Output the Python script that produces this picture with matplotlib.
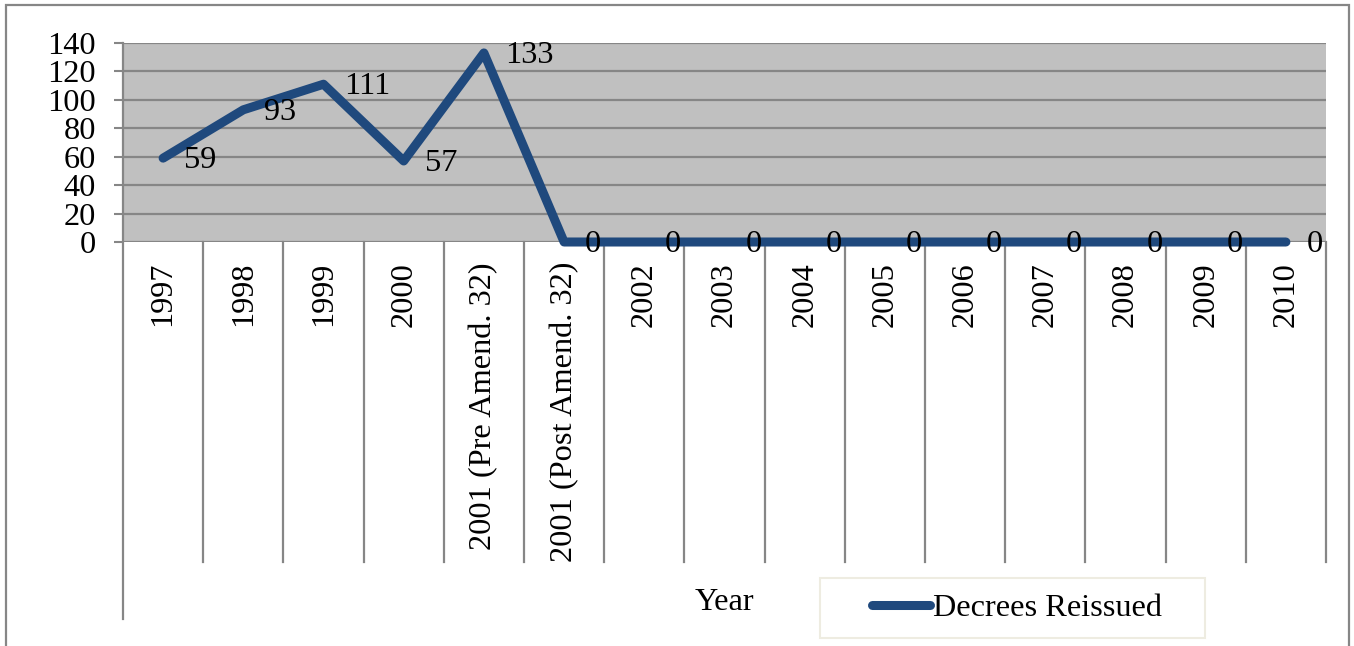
import numpy as np
import matplotlib.pyplot as plt
import matplotlib.transforms as mtransforms
from matplotlib.patches import Rectangle

plt.rcParams['font.family'] = ['Liberation Serif', 'DejaVu Serif']

# data
years = ['1997', '1998', '1999', '2000', '2001 (Pre Amend. 32)',
         '2001 (Post Amend. 32)', '2002', '2003', '2004', '2005',
         '2006', '2007', '2008', '2009', '2010']
decrees = [59, 93, 111, 57, 133, 0, 0, 0, 0, 0, 0, 0, 0, 0, 0]
y_ticks = [0, 20, 40, 60, 80, 100, 120, 140]

W, H = 1354, 646
fs = 23.3
grid_col = '#868686'
line_col = '#1F497D'

fig = plt.figure(figsize=(W/100, H/100), dpi=100)
ax = fig.add_axes([123/W, 404/H, 1203/W, 199/H])
ax.set_facecolor('#C0C0C0')

n = len(years)
x = np.arange(n)
ax.plot(x, decrees, color=line_col, lw=6.5, solid_capstyle='round',
        solid_joinstyle='round', zorder=3, clip_on=False, label='Decrees Reissued')

# data labels
for i, v in enumerate(decrees):
    ax.annotate(str(v), (i, v), xytext=(15, -2), textcoords='offset points',
                ha='left', va='center', fontsize=fs, zorder=4, annotation_clip=False)

ax.set_xlim(-0.5, n - 0.5)
ax.set_ylim(0, 140)
ax.set_yticks(y_ticks)
ax.set_xticks([])
ax.grid(axis='y', color=grid_col, lw=1.6)
ax.set_axisbelow(True)
ax.tick_params(axis='y', length=6.5, width=1.5, color=grid_col, pad=13, labelsize=fs)
for s in ax.spines.values():
    s.set_visible(False)

# category axis: divider lines and rotated labels
blend = mtransforms.blended_transform_factory(ax.transData, ax.transAxes)
for k in range(n + 1):
    bottom = -1.894 if k == 0 else -1.608
    top = 1.0 if k == 0 else 0.0
    ax.plot([k - 0.5, k - 0.5], [top, bottom], color=grid_col, lw=1.6,
            transform=blend, clip_on=False, zorder=1)
for i, lab in enumerate(years):
    ax.text(i, -20/199, lab, transform=blend, rotation=90, ha='center',
            va='top', fontsize=fs)

fig.text(724/W, 1 - 602/H, 'Year', ha='center', va='center', fontsize=fs)

# legend
fig.patches.append(Rectangle((820/W, 1 - 638/H), 385/W, 60/H, transform=fig.transFigure,
                             facecolor='white', edgecolor='#EEECE1', lw=1.5, zorder=-1))
ax.legend(loc='center left', bbox_to_anchor=(872/W, 1 - 608/H),
          bbox_transform=fig.transFigure, frameon=False, borderpad=0,
          borderaxespad=0, handlelength=1.8, handletextpad=0.1, fontsize=fs)

# outer chart border
fig.patches.append(Rectangle((6/W, -0.05), 1343/W, 641/H + 0.05, transform=fig.transFigure,
                             fill=False, edgecolor=grid_col, lw=1.6, zorder=-1))

fig.savefig('out.png', dpi=100)
